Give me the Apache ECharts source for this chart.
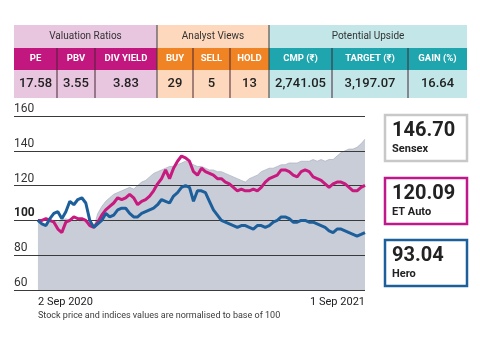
<!DOCTYPE html>
<html lang="en">
<head>
<meta charset="UTF-8">
<title>Hero vs ET Auto vs Sensex</title>
<script src="https://cdn.jsdelivr.net/npm/echarts@6/dist/echarts.min.js"></script>
<style>
    html, body { margin: 0; padding: 0; background: #fff; }
    #main { width: 480px; height: 360px; }
</style>
</head>
<body>
<div id="main"></div>
<script>
    // normalised to 100, 2 Sep 2020 .. 1 Sep 2021 (sampled)
    var sensex = [100, 98, 97, 99, 100, 99, 100, 101, 100, 100, 99, 100, 99, 98, 96, 104, 108, 111, 113, 115,
        116, 117, 118, 119, 118, 120, 122, 123, 125, 127, 128, 129, 130, 131, 131, 132, 133, 134, 133, 132,
        131, 131, 130, 129, 129, 128, 128, 127, 126, 125, 124, 123, 122, 124, 125, 126, 128, 129, 130, 130,
        131, 132, 132, 133, 133, 133, 134, 134, 134, 135, 134, 135, 134, 135, 135, 137, 139, 140, 141, 141,
        142, 144, 146.70];
    var etAuto = [100, 100, 101, 100, 99, 95, 93, 99, 100, 102, 101, 101, 100, 97, 96, 99, 103, 106, 108, 110,
        113, 112, 113, 115, 113, 109, 111, 112, 114, 117, 121, 124, 129, 124, 130, 134, 137, 136, 134, 128,
        126, 130, 128, 127, 126, 124, 124, 122, 121, 119, 117, 118, 117, 117, 118, 117, 119, 122, 124, 125,
        126, 129, 129, 128, 126, 125, 128, 129, 128, 125, 124, 123, 121, 119, 121, 122, 122, 121, 119, 117,
        117, 119, 120.09];
    var hero = [100, 98, 97, 101, 104, 105, 101, 105, 111, 109, 112, 113, 110, 100, 96, 98, 100, 104, 102, 103,
        106, 107, 107, 104, 102, 102, 104, 105, 106, 107, 109, 112, 111, 110, 114, 116, 119, 120, 119, 111,
        117, 117, 116, 111, 106, 103, 100, 99, 98, 97, 96, 97, 97, 96, 95, 97, 97, 96, 97, 99,
        100, 102, 102, 101, 99, 99, 100, 100, 99, 99, 98, 97, 96, 94, 93, 95, 95, 94, 93, 92,
        91, 92, 93.04];
    var dateLabels = ['2 Sep 2020', '1 Sep 2021'];
    var seriesNames = ['Sensex', 'ET Auto', 'Hero'];
    var lastValues = ['146.70', '120.09', '93.04'];
    var footnote = 'Stock price and indices values are normalised to base of 100';

    var groupTitles = ['Valuation Ratios', 'Analyst Views', 'Potential Upside'];
    var colHeads = ['PE', 'PBV', 'DIV YIELD', 'BUY', 'SELL', 'HOLD', 'CMP (₹)', 'TARGET (₹)', 'GAIN (%)'];
    var colValues = ['17.58', '3.55', '3.83', '29', '5', '13', '2,741.05', '3,197.07', '16.64'];
    var colGroup = [0, 0, 0, 1, 1, 1, 2, 2, 2];

    // layout
    var colEdges = [14, 57, 95, 157, 193, 230, 269, 332, 408, 467];
    var lightCol = ['#e8c6df', '#fdd8bc', '#c3e6e8'];
    var darkCol = ['#c2177f', '#f08424', '#1fa5ae'];
    var lineCol = ['#c8c8c8', '#c0178a', '#1d5f9b'];
    var FONT = 'Roboto, "Noto Sans", sans-serif';

    function pairs(arr) {
        return arr.map(function (v, i) { return [i, v]; });
    }

    var graphics = [];
    // table: group backgrounds + titles
    for (var g = 0; g < 3; g++) {
        var first = colGroup.indexOf(g), last = colGroup.lastIndexOf(g);
        var gx0 = colEdges[first], gx1 = colEdges[last + 1];
        graphics.push({type: 'rect', shape: {x: gx0, y: 25, width: gx1 - gx0, height: 73},
            style: {fill: lightCol[g]}, silent: true});
        graphics.push({type: 'text', x: (gx0 + gx1) / 2, y: 36,
            style: {text: groupTitles[g], fill: '#333', font: '10px ' + FONT, align: 'center', verticalAlign: 'middle'}});
    }
    // columns
    for (var c = 0; c < colHeads.length; c++) {
        var x0 = colEdges[c], x1 = colEdges[c + 1], grp = colGroup[c];
        graphics.push({type: 'rect', shape: {x: x0, y: 48, width: x1 - x0, height: 22},
            style: {fill: darkCol[grp]}, silent: true});
        graphics.push({type: 'text', x: (x0 + x1) / 2, y: 59,
            style: {text: colHeads[c], fill: '#fff', font: 'bold 9.5px ' + FONT, align: 'center', verticalAlign: 'middle'}});
        graphics.push({type: 'text', x: (x0 + x1) / 2, y: 84,
            style: {text: colValues[c], fill: '#222', font: '500 13px ' + FONT, align: 'center', verticalAlign: 'middle'}});
        if (c > 0) {
            var isGroupEdge = colGroup[c] !== colGroup[c - 1];
            graphics.push({type: 'line', shape: {x1: x0, y1: isGroupEdge ? 25 : 48, x2: x0, y2: 98},
                style: {stroke: isGroupEdge ? '#3a3a3a' : '#4a2436', lineWidth: 1}, silent: true});
        }
    }
    // latest value boxes
    var boxTop = [115, 178, 240];
    for (var b = 0; b < 3; b++) {
        graphics.push({type: 'rect', shape: {x: 385, y: boxTop[b], width: 82, height: 46},
            style: {fill: '#fff', stroke: lineCol[b], lineWidth: 2.5}, silent: true});
        graphics.push({type: 'text', x: 392, y: boxTop[b] + 6,
            style: {text: lastValues[b], fill: '#222', font: 'bold 20px ' + FONT}});
        graphics.push({type: 'text', x: 392, y: boxTop[b] + 29,
            style: {text: seriesNames[b], fill: '#222', font: 'bold 11px ' + FONT}});
    }
    // dates + note
    graphics.push({type: 'text', x: 38, y: 302,
        style: {text: dateLabels[0], fill: '#222', font: '11px ' + FONT, verticalAlign: 'middle'}});
    graphics.push({type: 'text', x: 365, y: 302,
        style: {text: dateLabels[1], fill: '#222', font: '11px ' + FONT, align: 'right', verticalAlign: 'middle'}});
    graphics.push({type: 'text', x: 38, y: 316,
        style: {text: footnote, fill: '#3a3a3a', font: '9px ' + FONT, verticalAlign: 'middle'}});

    var myChart = echarts.init(document.getElementById('main'));
    myChart.setOption({
        animation: false,
        grid: {left: 14, right: 115, top: 116, bottom: 70},
        xAxis: {
            type: 'value', min: -6, max: sensex.length - 1,
            show: false
        },
        yAxis: {
            type: 'value', min: 60, max: 160, interval: 20, z: 4,
            axisLine: {show: false}, axisTick: {show: false},
            axisLabel: {
                inside: true, margin: 0, verticalAlign: 'bottom', padding: [0, 0, 1, 0],
                color: '#333', fontSize: 12, fontFamily: FONT,
                formatter: function (v) { return v === 100 ? '{b|100}' : String(v); },
                rich: {b: {fontWeight: 'bold', fontSize: 12, color: '#222', fontFamily: FONT}}
            },
            splitLine: {lineStyle: {color: '#3a3a3a', width: 1}}
        },
        series: [
            // semi-transparent fill so the gridlines stay visible through the shading
            {name: seriesNames[0], type: 'line', data: pairs(sensex), symbol: 'none', z: 1,
                lineStyle: {color: 'rgba(160,166,184,0.6)', width: 1},
                areaStyle: {color: 'rgba(165,172,190,0.6)', opacity: 1, origin: 'start'}},
            {name: seriesNames[1], type: 'line', data: pairs(etAuto), symbol: 'none', z: 5,
                lineStyle: {color: '#c8197f', width: 3}},
            {name: seriesNames[2], type: 'line', data: pairs(hero), symbol: 'none', z: 6,
                lineStyle: {color: '#1d5f9b', width: 3}}
        ],
        graphic: graphics
    });
</script>
</body>
</html>
